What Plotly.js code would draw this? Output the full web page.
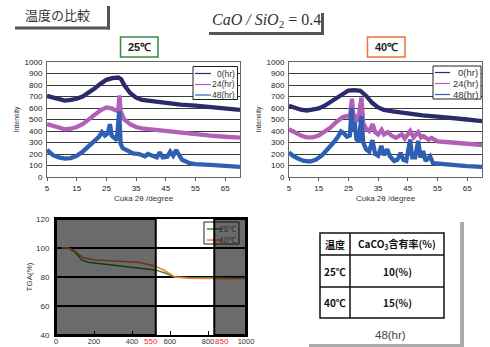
<!DOCTYPE html>
<html><head><meta charset="utf-8">
<script src="https://cdn.plot.ly/plotly-3.0.1.min.js"></script>
<style>html,body{margin:0;padding:0;background:#fff;}#c{width:490px;height:347px;}</style>
</head><body><div id="c"></div>
<script>
// ---- XRD 25℃ ----
const l0x = [5,7,9,11,13,15,17,19,21,23,25,27,29,30,31,33,35,37,40,45,50,55,60,65,70];
const l0y = [705,690,675,665,670,680,700,730,770,810,845,860,865,850,800,730,690,670,660,645,630,620,605,595,583];
const l24x = [5,7,9,11,13,15,17,19,21,23,25,27,28,29,29.4,29.8,31,33,35,37,40,45,50,55,60,65,70];
const l24y = [460,445,425,415,420,435,460,500,540,580,605,595,580,575,710,570,500,460,435,423,415,400,390,375,360,350,342];
const l48x = [5,6,7,9,11,13,15,17,19,21,22.5,23.5,24.5,25.5,26.2,26.8,27.5,28.5,29.3,29.8,30.5,32,34,36,38,39,40.5,42,43,44,45.5,46.5,47.5,48.5,49.5,50.5,53,55,60,65,70];
const l48y = [235,210,190,170,160,165,185,220,265,310,350,390,360,380,460,360,340,320,570,290,250,230,205,200,180,200,180,170,215,170,175,220,185,235,190,150,120,112,105,100,88];
// ---- XRD 40℃ ----
const r0x = [5,7,9,11,13,15,17,19,21,23,25,27,29,31,33,35,37,40,45,50,55,60,65,70];
const r0y = [620,600,585,578,585,597,620,655,690,725,752,755,750,705,645,605,583,570,550,535,525,515,500,485];
const r24x = [5,7,9,11,13,15,17,19,21,23,24.5,25.5,26.2,26.8,27.4,28.2,29.4,30,31,32,33.2,34,35,36.2,37,38.3,39.5,41,43,44,45.8,47,48.5,49.5,50.3,52,53,55,60,65,70];
const r24y = [415,385,360,345,345,360,395,430,480,520,530,520,680,500,520,480,690,470,420,400,460,390,370,410,370,390,360,340,370,335,400,345,390,345,355,325,340,310,300,290,278];
const r48x = [5,6,8,10,12,14,16,18,20,21.5,22.5,23.5,24.5,25.5,26.1,26.6,27.1,27.7,28.5,29.4,30,31,32,33.1,34,35,36.1,37,38.1,39,40.4,41.5,42.6,43.5,44.5,45.8,46.5,47.5,48.5,49.3,50.2,51,52.5,53.5,55,60,65,70];
const r48y = [215,190,160,140,135,150,185,240,300,350,395,380,350,360,600,400,480,330,310,530,300,240,220,320,200,185,270,190,240,180,140,150,210,150,140,325,170,170,315,170,225,140,180,120,115,105,95,88];
// ---- TGA ----
const tgaX25 = [30,65,100,135,170,258,346,433,521,574,626,696,800,900,1000];
const tgaY25 = [100.2,100,97.3,91.8,90.1,88.8,87.6,86.5,84.9,82.7,80,79.7,79.5,79.4,79.3];
const tgaX40 = [30,65,100,144,205,346,433,521,574,626,696,800,900,1000];
const tgaY40 = [100.2,100,97.8,93.3,91.8,91,90.1,87.6,84.3,80,79.1,79,78.9,78.9];
const seriesNames = ['0(hr)','24(hr)','48(hr)'];
const tgaNames = ['25℃','40℃'];
const tableHead = ['温度','CaCO<sub>3</sub>含有率(%)'];
const tableRows = [['25℃','10(%)'],['40℃','15(%)']];

const C0='#2b2a6c', C24='#b25fb6', C48='#2d5fb3', CG='#2e8b3e', CO='#ff7a2a';
const W=490,H=347;
const px=x=>x/W, py=y=>1-y/H;
const lw=4.3;
const traces=[
 {x:l0x,y:l0y,name:seriesNames[0],xaxis:'x',yaxis:'y',line:{color:C0,width:lw}},
 {x:l24x,y:l24y,name:seriesNames[1],xaxis:'x',yaxis:'y',line:{color:C24,width:lw}},
 {x:l48x,y:l48y,name:seriesNames[2],xaxis:'x',yaxis:'y',line:{color:C48,width:lw}},
 {x:r0x,y:r0y,name:seriesNames[0],xaxis:'x2',yaxis:'y2',line:{color:C0,width:lw}},
 {x:r24x,y:r24y,name:seriesNames[1],xaxis:'x2',yaxis:'y2',line:{color:C24,width:lw}},
 {x:r48x,y:r48y,name:seriesNames[2],xaxis:'x2',yaxis:'y2',line:{color:C48,width:lw}},
 {x:tgaX25,y:tgaY25,name:tgaNames[0],xaxis:'x3',yaxis:'y3',line:{color:CG,width:1.5}},
 {x:tgaX40,y:tgaY40,name:tgaNames[1],xaxis:'x3',yaxis:'y3',line:{color:CO,width:1.5}}
].map(t=>Object.assign({type:'scatter',mode:'lines',showlegend:false,hoverinfo:'skip'},t));

const FF='Liberation Sans, Arial, sans-serif';
const tf={family:FF,size:8,color:'#222'};
const xrdX=(dom,anc)=>({domain:dom,anchor:anc,range:[5,70],tick0:5,dtick:10,ticks:'outside',ticklen:3,tickcolor:'#555',
  showline:true,linecolor:'#666',linewidth:1,mirror:true,showgrid:false,zeroline:false,tickfont:tf,
  title:{text:'Cuka 2θ /degree',font:{family:FF,size:8,color:'#333'},standoff:3}});
const xrdY=(anc)=>({domain:[py(177),py(62)],anchor:anc,range:[0,1000],dtick:100,showgrid:true,gridcolor:'#3a3a3a',gridwidth:1,
  zeroline:false,showline:true,linecolor:'#666',mirror:true,ticks:'',tickfont:tf,ticklabelstandoff:2,
  title:{text:'Intensity',font:{family:FF,size:7,color:'#333'},standoff:4}});

const layout={width:W,height:H,margin:{l:0,r:0,t:0,b:0},paper_bgcolor:'#fff',plot_bgcolor:'#fff',showlegend:false,
 xaxis:xrdX([px(47),px(240)],'y'), yaxis:xrdY('x'),
 xaxis2:xrdX([px(289),px(482)],'y2'), yaxis2:xrdY('x2'),
 xaxis3:{domain:[px(56),px(246)],anchor:'y3',range:[0,1000],dtick:200,ticks:'inside',ticklen:4,tickcolor:'#000',
   showline:true,linecolor:'#000',linewidth:2,mirror:true,showgrid:false,zeroline:false,tickfont:{family:FF,size:7.5,color:'#333'},ticklabelstandoff:-2},
 yaxis3:{domain:[py(335),py(219)],anchor:'x3',range:[40,120],dtick:20,showgrid:true,gridcolor:'#000',gridwidth:1.5,
   showline:true,linecolor:'#000',linewidth:2,mirror:true,zeroline:false,ticks:'',tickfont:{family:FF,size:8,color:'#333'},ticklabelstandoff:3,
   title:{text:'TGA(%)',font:{family:FF,size:8,color:'#333'},standoff:2}},
 shapes:[],annotations:[]};

const S=layout.shapes, A=layout.annotations;
const line=(x0,y0,x1,y1,color,width)=>S.push({type:'line',xref:'paper',yref:'paper',x0:px(x0),y0:py(y0),x1:px(x1),y1:py(y1),line:{color:color,width:width},layer:'above'});
const rect=(x0,y0,x1,y1,color,width,fill)=>S.push({type:'rect',xref:'paper',yref:'paper',x0:px(x0),y0:py(y0),x1:px(x1),y1:py(y1),line:{color:color,width:width},fillcolor:fill||'rgba(0,0,0,0)',layer:'above'});
const text=(x,y,t,size,opt)=>A.push(Object.assign({xref:'paper',yref:'paper',x:px(x),y:py(y),text:t,showarrow:false,
  font:{family:FF,size:size,color:'#222'},xanchor:'center',yanchor:'middle'},opt||{}));

// headers
text(57,15,'温度の比較',13,{font:{family:'Noto Sans CJK JP',size:13,color:'#333'}});
line(15,28,110,28,'#555',3); line(108.5,6,108.5,29.5,'#555',3);
text(266,21,'<i>CaO / SiO</i><sub>2</sub> = 0.4',16,{font:{family:'Liberation Serif, Times New Roman, serif',size:16,color:'#333'}});
line(209,33.5,324,33.5,'#555',3); line(322.5,13,322.5,35,'#555',3);
rect(120.5,37,158,57,'#3a8a3f',1.5,'#fff'); text(139.5,47,'<b>25℃</b>',11);
rect(367.5,37,405,57,'#f0703a',1.5,'#fff'); text(386.5,47,'<b>40℃</b>',11);

// XRD legends
function xrdLegend(bx0,by0,bx1,by1,lx0,lx1,tx,ys,fs){
  rect(bx0,by0,bx1,by1,'#222',1,'#fff');
  [C0,C24,C48].forEach((c,i)=>{line(lx0,ys[i],lx1,ys[i],c,1.2);
    text(tx,ys[i],seriesNames[i],fs,{xanchor:'right',font:{family:FF,size:fs,color:'#333'}});});
}
xrdLegend(193,66.5,237.5,99.5,195,211,237,[73.5,84.5,95],8.5);
xrdLegend(433,66,481,99,435,450,480,[72.5,83.5,94.5],9.5);

// TGA legend
rect(204,222,239,244,'#222',1,'#fff');
line(207,229,222,229,CG,1.5); text(238.5,229,tgaNames[0],8.5,{xanchor:'right',font:{family:FF,size:8.5,color:'#333'}});
line(207,240,222,240,CO,1.5); text(238.5,240,tgaNames[1],8.5,{xanchor:'right',font:{family:FF,size:8.5,color:'#333'}});
// TGA shaded regions
S.push({type:'rect',xref:'x3',yref:'y3',x0:0,x1:525,y0:40,y1:120,fillcolor:'rgba(0,0,0,0.58)',line:{color:'#000',width:2},layer:'above'});
S.push({type:'rect',xref:'x3',yref:'y3',x0:833,x1:1000,y0:40,y1:120,fillcolor:'rgba(0,0,0,0.58)',line:{color:'#000',width:2},layer:'above'});
text(151,341,'550',8,{font:{family:FF,size:8,color:'#ff2020'}});
text(222,341,'850',8,{font:{family:FF,size:8,color:'#ff2020'}});

// table
line(462,222,462,345,'#aaa',4); line(309,345.5,464,345.5,'#aaa',3);
rect(320,233,444,318,'#111',1.5);
line(350,233,350,318,'#111',1.5);
line(320,255,444,255,'#111',1.5); line(320,287,444,287,'#111',1.5);
const tfont={family:'Noto Sans CJK JP',size:10,color:'#111'};
text(335,244,'<b>'+tableHead[0]+'</b>',10,{font:tfont});
text(397,244,'<b>'+tableHead[1]+'</b>',10,{font:tfont});
tableRows.forEach((r,i)=>{const y=[271,302][i];
  text(335,y,'<b>'+r[0]+'</b>',10,{font:tfont});
  text(397,y,'<b>'+r[1]+'</b>',10,{font:tfont});});
text(390,335,'48(hr)',11.5,{font:{family:FF,size:11.5,color:'#444'}});

Plotly.newPlot('c',traces,layout,{staticPlot:true,displayModeBar:false});
</script></body></html>
